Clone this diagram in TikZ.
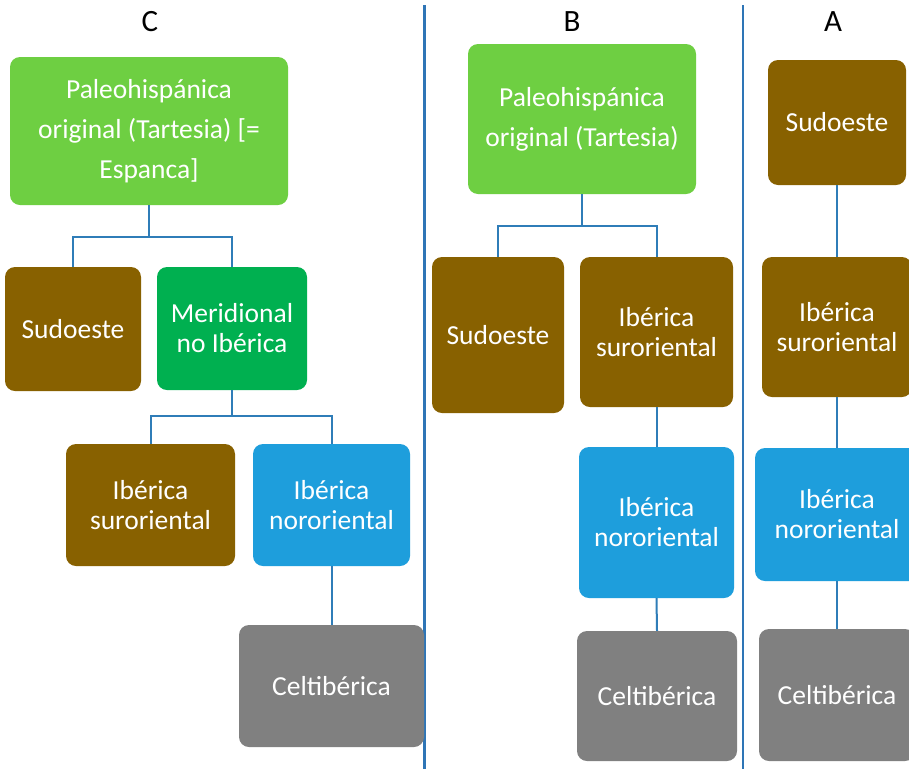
\documentclass[tikz,border=0pt]{standalone}
\usepackage{fontspec}
\setmainfont{Carlito}
\definecolor{lgreen}{HTML}{6ECF42}
\definecolor{mgreen}{HTML}{00B050}
\definecolor{brownbox}{HTML}{886100}
\definecolor{bluebox}{HTML}{1E9EDC}
\definecolor{graybox}{HTML}{808080}
\definecolor{linkblue}{HTML}{2F7DB8}
\definecolor{sepblue}{HTML}{2E75B6}
\tikzset{
  box/.style={rounded corners=10pt, draw=none, text=white, align=center, inner sep=0pt,
    font=\fontsize{27.5}{30}\selectfont},
  topbox/.style={box, fill=lgreen, font=\fontsize{27.5}{40}\selectfont},
  brownb/.style={box, fill=brownbox},
  greenb/.style={box, fill=mgreen},
  blueb/.style={box, fill=bluebox},
  grayb/.style={box, fill=graybox},
  link/.style={draw=linkblue, line width=2pt},
  sep/.style={draw=sepblue, line width=2.2pt},
  coltitle/.style={font=\fontsize{31}{32}\selectfont, text=black}
}
\begin{document}
\begin{tikzpicture}[x=1pt,y=-1pt]
\useasboundingbox (0,0) rectangle (909,769);
\fill[white] (0,0) rectangle (909,769);
\clip (0,0) rectangle (909,769);

% titles
\node[coltitle] (tC) at (150,22) {C};
\node[coltitle] (tB) at (572,22) {B};
\node[coltitle] (tA) at (833,22) {A};

% separators
\coordinate (s1t) at (424.5,5);
\coordinate (s1b) at (424.5,769);
\coordinate (s2t) at (743,5);
\coordinate (s2b) at (743,769);
\draw[sep] (s1t) -- (s1b);
\draw[sep] (s2t) -- (s2b);

% column C
\node[topbox, minimum width=278pt, minimum height=148pt] (cTop) at (149,131) {Paleohispánica\\original (Tartesia) [=\\Espanca]};
\node[brownb, minimum width=136pt, minimum height=124pt] (cSud) at (73,329) {Sudoeste};
\node[greenb, minimum width=150pt, minimum height=123pt] (cMer) at (232,328.5) {Meridional\\no Ibérica};
\node[brownb, minimum width=169pt, minimum height=122pt] (cSur) at (150.5,505) {Ibérica\\suroriental};
\node[blueb, minimum width=157pt, minimum height=122pt] (cNor) at (331.5,505) {Ibérica\\nororiental};
\node[grayb, minimum width=185pt, minimum height=122pt] (cCel) at (331.5,686) {Celtibérica};
\coordinate (cj1) at (149,237);
\coordinate (cj2) at (232,416);
\draw[link] (cTop.south) -- (cj1);
\draw[link] (cj1) -| (cSud.north);
\draw[link] (cj1) -| (cMer.north);
\draw[link] (cMer.south) -- (cj2);
\draw[link] (cj2) -| (cSur.north);
\draw[link] (cj2) -| (cNor.north);
\draw[link] (cNor.south) -- (cCel.north);

% column B
\node[topbox, minimum width=228pt, minimum height=150pt] (bTop) at (582,119) {Paleohispánica\\original (Tartesia)};
\node[brownb, minimum width=132pt, minimum height=156pt] (bSud) at (498,335) {Sudoeste};
\node[brownb, minimum width=153pt, minimum height=150pt] (bSur) at (656.5,332) {Ibérica\\suroriental};
\node[blueb, minimum width=155pt, minimum height=151pt] (bNor) at (656.5,522.5) {Ibérica\\nororiental};
\node[grayb, minimum width=160pt, minimum height=130pt] (bCel) at (657,696) {Celtibérica};
\coordinate (bj1) at (582,226);
\draw[link] (bTop.south) -- (bj1);
\draw[link] (bj1) -| (bSud.north);
\draw[link] (bj1) -| (bSur.north);
\draw[link] (bSur.south) -- (bNor.north);
\draw[link] (bNor.south) -- (bCel.north);

% column A
\node[brownb, minimum width=138pt, minimum height=125pt] (aSud) at (837,122.5) {Sudoeste};
\node[brownb, minimum width=150pt, minimum height=140pt] (aSur) at (837,327) {Ibérica\\suroriental};
\node[blueb, minimum width=164pt, minimum height=133pt] (aNor) at (837,514.5) {Ibérica\\nororiental};
\node[grayb, minimum width=156pt, minimum height=132pt] (aCel) at (837,695) {Celtibérica};
\draw[link] (aSud.south) -- (aSur.north);
\draw[link] (aSur.south) -- (aNor.north);
\draw[link] (aNor.south) -- (aCel.north);
\end{tikzpicture}
\end{document}
